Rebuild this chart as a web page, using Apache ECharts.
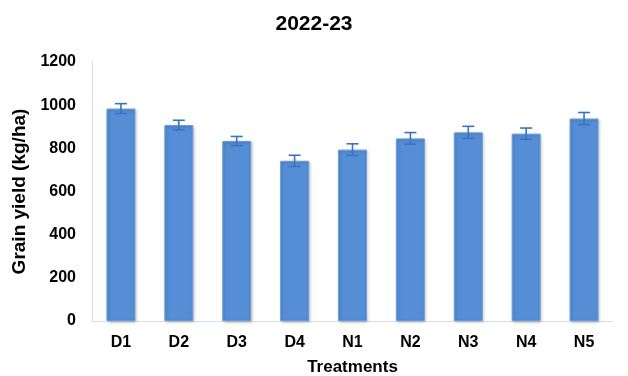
<!DOCTYPE html>
<html>
<head>
<meta charset="utf-8">
<script src="https://cdn.jsdelivr.net/npm/echarts@6/dist/echarts.min.js"></script>
<style>
  html, body { margin: 0; padding: 0; background: #fff; }
  #chart { width: 628px; height: 376px; }
</style>
</head>
<body>
<div id="chart"></div>
<script>
// data
var treatments = ["D1", "D2", "D3", "D4", "N1", "N2", "N3", "N4", "N5"];
var yieldMean = [984, 908, 834, 742, 794, 846, 874, 868, 938];
var yieldErr = [23, 22, 21, 26, 27, 27, 28, 26, 28];
var yTicks = [0, 200, 400, 600, 800, 1000, 1200];

var chart = echarts.init(document.getElementById("chart"));

var errData = treatments.map(function (t, i) {
  return [i, yieldMean[i] - yieldErr[i], yieldMean[i] + yieldErr[i]];
});

var font = "Liberation Sans";

var option = {
  animation: false,
  title: {
    text: "2022-23",
    left: "center",
    top: 9,
    textStyle: { fontFamily: font, fontSize: 21, fontWeight: "bold", color: "#000" }
  },
  grid: { left: 92, right: 15, top: 62, bottom: 55, outerBoundsMode: "none", containLabel: false },
  xAxis: {
    type: "category",
    data: treatments,
    name: "Treatments",
    nameLocation: "middle",
    nameGap: 38,
    nameTextStyle: { fontFamily: font, fontSize: 17, fontWeight: "bold", color: "#000" },
    axisLine: { lineStyle: { color: "#d6deec", width: 1 } },
    axisTick: { show: false },
    axisLabel: { fontFamily: font, fontSize: 16, fontWeight: "bold", color: "#000", margin: 14 }
  },
  yAxis: {
    type: "value",
    min: yTicks[0],
    max: yTicks[yTicks.length - 1],
    interval: 200,
    name: "Grain yield (kg/ha)",
    nameLocation: "middle",
    nameGap: 63,
    nameTextStyle: { fontFamily: font, fontSize: 19, fontWeight: "bold", color: "#000" },
    axisLine: { show: true, lineStyle: { color: "#d6deec", width: 1 } },
    axisTick: { show: false },
    splitLine: { show: false },
    axisLabel: {
      fontFamily: font, fontSize: 16, fontWeight: "bold", color: "#000", margin: 16,
      formatter: function (v) { return String(v); }
    }
  },
  series: [
    {
      type: "bar",
      data: yieldMean,
      barWidth: "50%",
      itemStyle: {
        color: "#558ed5",
        borderColor: "#6a9cdb",
        borderWidth: 1,
        shadowColor: "rgba(0,0,0,0.25)",
        shadowBlur: 3,
        shadowOffsetX: 1,
        shadowOffsetY: 1
      }
    },
    {
      type: "custom",
      data: errData,
      z: 10,
      renderItem: function (params, api) {
        var x = api.value(0);
        var lo = api.coord([x, api.value(1)]);
        var hi = api.coord([x, api.value(2)]);
        var hw = 6;
        var st = { stroke: "#3b72c4", lineWidth: 1.6 };
        return {
          type: "group",
          children: [
            { type: "line", shape: { x1: hi[0], y1: hi[1], x2: lo[0], y2: lo[1] }, style: st },
            { type: "line", shape: { x1: hi[0] - hw, y1: hi[1], x2: hi[0] + hw, y2: hi[1] }, style: st },
            { type: "line", shape: { x1: lo[0] - hw, y1: lo[1], x2: lo[0] + hw, y2: lo[1] }, style: st }
          ]
        };
      }
    }
  ]
};

chart.setOption(option);
</script>
</body>
</html>
